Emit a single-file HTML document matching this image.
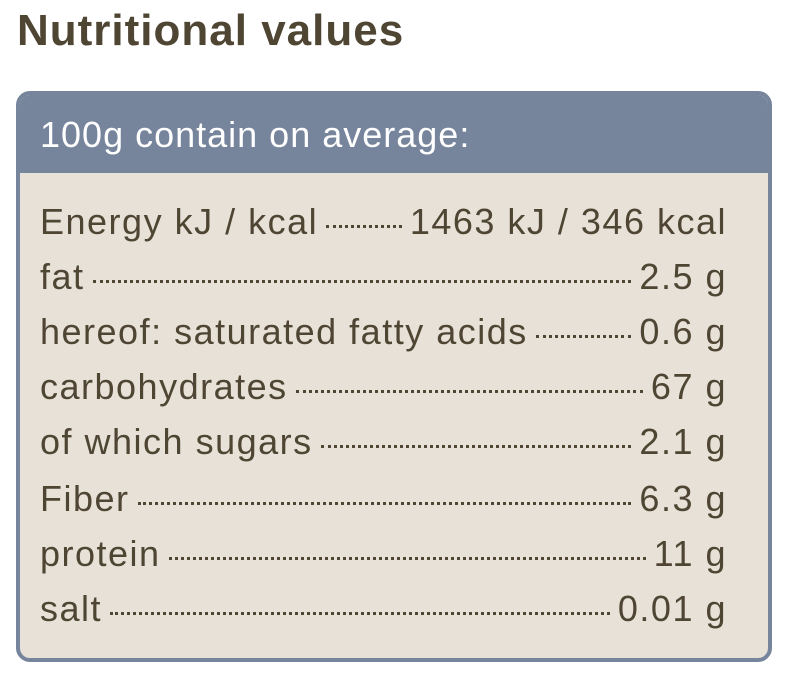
<!DOCTYPE html>
<html><head><meta charset="utf-8"><style>
body{margin:0;width:790px;height:675px;background:#fff;position:relative;font-family:"Liberation Sans",sans-serif;overflow:hidden}
h1{position:absolute;left:17px;top:6px;margin:0;font-size:44px;letter-spacing:1px;font-weight:bold;color:#4f4533;white-space:nowrap}
.box{position:absolute;left:16px;top:91px;width:748px;height:563px;border:4px solid #76849c;border-radius:14px;background:#e7e1d8;overflow:hidden}
.hd{height:78px;background:#76849c;color:#fff;font-size:36px;letter-spacing:1px;line-height:80px;padding-left:20px;white-space:nowrap}
.row{position:absolute;left:20px;width:687px;display:flex;align-items:baseline;font-size:36px;letter-spacing:1.5px;color:#4f4533;white-space:nowrap;height:44px}
.d{flex:1;border-bottom:3px dotted #4f4533;margin:0 8px;transform:translateY(-6px)}
</style></head><body>
<h1>Nutritional values</h1>
<div class="box">
<div class="hd">100g contain on average:</div>
<div class="row" style="top:106px"><span>Energy kJ / kcal</span><i class="d"></i><span>1463 kJ / 346 kcal</span></div>
<div class="row" style="top:161px"><span>fat</span><i class="d"></i><span>2.5 g</span></div>
<div class="row" style="top:216px"><span>hereof: saturated fatty acids</span><i class="d"></i><span>0.6 g</span></div>
<div class="row" style="top:271px"><span>carbohydrates</span><i class="d"></i><span>67 g</span></div>
<div class="row" style="top:326px"><span>of which sugars</span><i class="d"></i><span>2.1 g</span></div>
<div class="row" style="top:383px"><span>Fiber</span><i class="d"></i><span>6.3 g</span></div>
<div class="row" style="top:438px"><span>protein</span><i class="d"></i><span>11 g</span></div>
<div class="row" style="top:493px"><span>salt</span><i class="d"></i><span>0.01 g</span></div>
</div>
</body></html>
